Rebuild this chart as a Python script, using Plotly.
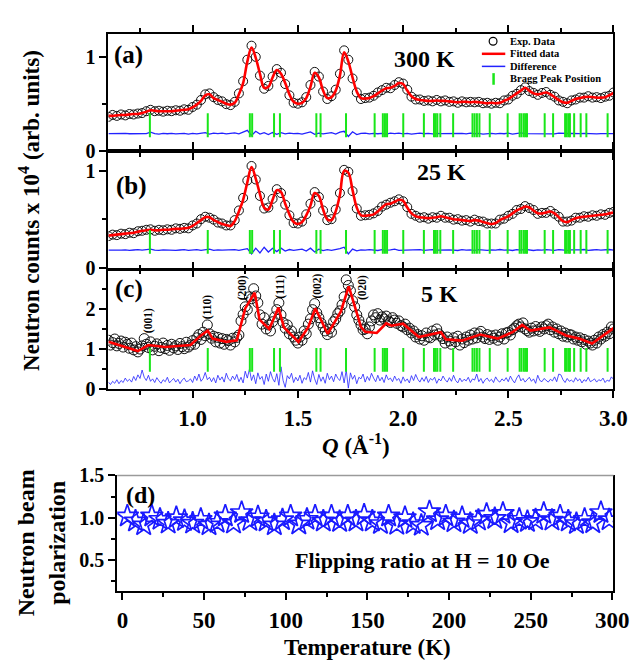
import plotly.graph_objects as go

W, H = 641, 666
FONT = "Liberation Serif"

# ---------------- data ----------------
q_ab = [round(0.60 + 0.02 * i, 2) for i in range(121)]
q_c = [round(0.60 + 0.01 * i, 2) for i in range(241)]

exp_a = [0.36, 0.38, 0.37, 0.385, 0.375, 0.39, 0.385, 0.395, 0.40, 0.42,
         0.435, 0.42, 0.425, 0.415, 0.425, 0.42, 0.43, 0.425, 0.44, 0.435,
         0.465, 0.49, 0.54, 0.60, 0.61, 0.57, 0.54, 0.525, 0.495, 0.485,
         0.52, 0.61, 0.74, 0.97, 1.12, 1.00, 0.80, 0.66, 0.69, 0.79,
         0.87, 0.83, 0.71, 0.59, 0.51, 0.50, 0.515, 0.57, 0.70, 0.84,
         0.79, 0.63, 0.55, 0.58, 0.65, 0.82, 1.07, 0.97, 0.77, 0.62,
         0.55, 0.56, 0.565, 0.585, 0.62, 0.645, 0.67, 0.665, 0.70, 0.73,
         0.715, 0.65, 0.575, 0.545, 0.545, 0.53, 0.535, 0.525, 0.54, 0.525,
         0.535, 0.52, 0.525, 0.51, 0.525, 0.515, 0.52, 0.515, 0.52, 0.505,
         0.51, 0.50, 0.51, 0.505, 0.535, 0.545, 0.585, 0.605, 0.645, 0.675,
         0.635, 0.615, 0.595, 0.615, 0.625, 0.595, 0.575, 0.535, 0.52, 0.505,
         0.535, 0.545, 0.565, 0.565, 0.58, 0.565, 0.57, 0.56, 0.575, 0.585,
         0.62]
fit_a = [0.37, 0.37, 0.375, 0.38, 0.38, 0.385, 0.39, 0.39, 0.40, 0.415,
         0.43, 0.425, 0.42, 0.42, 0.42, 0.42, 0.425, 0.43, 0.435, 0.44,
         0.46, 0.49, 0.53, 0.59, 0.60, 0.56, 0.54, 0.52, 0.50, 0.49,
         0.51, 0.60, 0.72, 0.95, 1.10, 0.99, 0.82, 0.67, 0.68, 0.78,
         0.86, 0.82, 0.72, 0.60, 0.52, 0.50, 0.51, 0.56, 0.68, 0.83,
         0.78, 0.64, 0.56, 0.57, 0.64, 0.80, 1.05, 0.95, 0.78, 0.63,
         0.56, 0.555, 0.56, 0.58, 0.61, 0.64, 0.665, 0.67, 0.69, 0.72,
         0.71, 0.64, 0.58, 0.55, 0.54, 0.535, 0.53, 0.53, 0.535, 0.53,
         0.53, 0.525, 0.52, 0.515, 0.52, 0.52, 0.515, 0.52, 0.515, 0.51,
         0.505, 0.51, 0.505, 0.51, 0.53, 0.55, 0.58, 0.61, 0.64, 0.67,
         0.64, 0.61, 0.60, 0.61, 0.62, 0.60, 0.57, 0.54, 0.515, 0.51,
         0.53, 0.55, 0.56, 0.57, 0.575, 0.57, 0.565, 0.565, 0.57, 0.59,
         0.615]
diff_a = [0.18, 0.182, 0.178, 0.18, 0.184, 0.179, 0.181, 0.177, 0.183, 0.18,
          0.195, 0.18, 0.176, 0.182, 0.179, 0.183, 0.178, 0.181, 0.184, 0.176,
          0.182, 0.178, 0.186, 0.19, 0.175, 0.185, 0.18, 0.186, 0.177, 0.182,
          0.188, 0.178, 0.20, 0.215, 0.16, 0.205, 0.175, 0.19, 0.17, 0.192,
          0.172, 0.19, 0.178, 0.186, 0.18, 0.183, 0.175, 0.19, 0.198, 0.172,
          0.185, 0.178, 0.182, 0.19, 0.176, 0.196, 0.205, 0.15, 0.20, 0.17,
          0.182, 0.186, 0.178, 0.184, 0.179, 0.183, 0.176, 0.185, 0.18, 0.186,
          0.178, 0.184, 0.176, 0.182, 0.186, 0.179, 0.183, 0.178, 0.184, 0.18,
          0.182, 0.177, 0.184, 0.18, 0.183, 0.178, 0.185, 0.179, 0.182, 0.176,
          0.18, 0.184, 0.178, 0.183, 0.179, 0.185, 0.176, 0.182, 0.188, 0.181,
          0.18, 0.178, 0.184, 0.179, 0.183, 0.181, 0.178, 0.185, 0.18, 0.182,
          0.184, 0.179, 0.181, 0.183, 0.18, 0.182, 0.178, 0.181, 0.18, 0.184,
          0.18]

exp_b = [0.325, 0.34, 0.335, 0.35, 0.345, 0.36, 0.355, 0.375, 0.38, 0.39,
         0.395, 0.38, 0.39, 0.385, 0.395, 0.39, 0.405, 0.40, 0.41, 0.405,
         0.435, 0.455, 0.50, 0.525, 0.515, 0.495, 0.465, 0.455, 0.435, 0.435,
         0.49, 0.59, 0.72, 0.90, 1.05, 0.91, 0.74, 0.61, 0.62, 0.71,
         0.81, 0.77, 0.65, 0.54, 0.46, 0.455, 0.475, 0.55, 0.66, 0.78,
         0.73, 0.59, 0.49, 0.50, 0.60, 0.77, 1.01, 0.99, 0.79, 0.61,
         0.535, 0.54, 0.545, 0.56, 0.585, 0.63, 0.65, 0.67, 0.685, 0.705,
         0.685, 0.625, 0.555, 0.535, 0.515, 0.52, 0.505, 0.52, 0.515, 0.535,
         0.515, 0.515, 0.495, 0.50, 0.485, 0.49, 0.475, 0.495, 0.48, 0.475,
         0.455, 0.455, 0.455, 0.495, 0.505, 0.535, 0.555, 0.595, 0.605, 0.635,
         0.615, 0.595, 0.555, 0.565, 0.565, 0.585, 0.555, 0.525, 0.475, 0.475,
         0.485, 0.515, 0.515, 0.53, 0.525, 0.54, 0.535, 0.55, 0.545, 0.565,
         0.575]
fit_b = [0.33, 0.335, 0.34, 0.345, 0.35, 0.355, 0.36, 0.37, 0.38, 0.385,
         0.39, 0.385, 0.385, 0.39, 0.39, 0.395, 0.40, 0.40, 0.405, 0.41,
         0.43, 0.46, 0.49, 0.52, 0.52, 0.49, 0.47, 0.45, 0.44, 0.43,
         0.48, 0.58, 0.70, 0.88, 1.04, 0.92, 0.76, 0.62, 0.60, 0.70,
         0.80, 0.78, 0.66, 0.55, 0.47, 0.45, 0.47, 0.54, 0.64, 0.77,
         0.74, 0.60, 0.50, 0.49, 0.58, 0.75, 1.00, 0.98, 0.80, 0.62,
         0.54, 0.535, 0.54, 0.55, 0.58, 0.62, 0.655, 0.66, 0.68, 0.70,
         0.69, 0.62, 0.56, 0.53, 0.52, 0.515, 0.51, 0.515, 0.52, 0.53,
         0.52, 0.51, 0.50, 0.495, 0.49, 0.485, 0.48, 0.49, 0.485, 0.47,
         0.46, 0.45, 0.46, 0.49, 0.51, 0.53, 0.56, 0.59, 0.61, 0.63,
         0.62, 0.59, 0.56, 0.56, 0.57, 0.58, 0.56, 0.52, 0.48, 0.47,
         0.49, 0.51, 0.52, 0.525, 0.53, 0.535, 0.54, 0.545, 0.55, 0.56,
         0.57]
diff_b = [0.18, 0.178, 0.183, 0.179, 0.182, 0.177, 0.181, 0.184, 0.179, 0.182,
          0.19, 0.18, 0.177, 0.183, 0.179, 0.182, 0.178, 0.181, 0.184, 0.178,
          0.181, 0.185, 0.178, 0.183, 0.19, 0.177, 0.182, 0.179, 0.183, 0.18,
          0.184, 0.178, 0.186, 0.195, 0.14, 0.20, 0.15, 0.21, 0.16, 0.198,
          0.165, 0.20, 0.17, 0.186, 0.178, 0.183, 0.19, 0.17, 0.20, 0.16,
          0.19, 0.175, 0.184, 0.178, 0.186, 0.195, 0.21, 0.14, 0.19, 0.172,
          0.183, 0.179, 0.185, 0.18, 0.176, 0.184, 0.179, 0.183, 0.19, 0.178,
          0.179, 0.183, 0.177, 0.182, 0.185, 0.178, 0.181, 0.184, 0.179, 0.182,
          0.178, 0.183, 0.18, 0.176, 0.184, 0.179, 0.182, 0.178, 0.185, 0.18,
          0.177, 0.183, 0.18, 0.186, 0.179, 0.182, 0.176, 0.184, 0.18, 0.188,
          0.182, 0.176, 0.183, 0.179, 0.185, 0.18, 0.177, 0.184, 0.181, 0.178,
          0.183, 0.179, 0.182, 0.186, 0.178, 0.181, 0.184, 0.179, 0.182, 0.186,
          0.18]

exp_c = [1.22, 1.10, 1.16, 1.25, 1.08, 1.14, 1.20, 1.05, 1.17, 1.12,
         1.02, 1.15, 0.98, 1.06, 0.93, 1.00, 1.08, 1.26, 1.12, 1.04,
         1.18, 0.98, 1.07, 1.13, 0.96, 1.04, 1.15, 1.01, 1.09, 0.97,
         1.12, 1.03, 1.08, 0.99, 1.14, 1.06, 1.01, 1.17, 1.05, 1.10,
         1.21, 1.12, 1.28, 1.36, 1.24, 1.42, 1.33, 1.60, 1.38, 1.27,
         1.32, 1.18, 1.29, 1.15, 1.26, 1.12, 1.24, 1.21, 1.10, 1.27,
         1.18, 1.29, 1.35, 1.70, 1.86, 2.05, 1.98, 2.30, 2.25, 2.50,
         2.32, 2.15, 1.85, 1.62, 1.78, 1.50, 1.60, 1.45, 1.68, 1.80,
         1.98, 2.15, 1.85, 1.66, 1.52, 1.60, 1.38, 1.45, 1.30, 1.22,
         1.15, 1.30, 1.22, 1.45, 1.38, 1.62, 1.75, 1.98, 2.13, 1.90,
         1.78, 1.65, 1.55, 1.45, 1.36, 1.50, 1.42, 1.68, 1.75, 1.88,
         1.95, 2.10, 2.30, 2.72, 2.58, 2.45, 2.20, 2.05, 1.85, 1.72,
         1.60, 1.48, 1.50, 1.38, 1.55, 1.70, 1.85, 1.78, 1.88, 1.72,
         1.80, 1.75, 1.82, 1.70, 1.66, 1.78, 1.72, 1.64, 1.70, 1.58,
         1.55, 1.62, 1.48, 1.52, 1.40, 1.45, 1.30, 1.36, 1.25, 1.33,
         1.22, 1.40, 1.30, 1.28, 1.45, 1.35, 1.50, 1.38, 1.32, 1.26,
         1.15, 1.30, 1.20, 1.12, 1.28, 1.18, 1.32, 1.10, 1.25, 1.16,
         1.30, 1.22, 1.35, 1.25, 1.40, 1.28, 1.38, 1.44, 1.30, 1.26,
         1.36, 1.24, 1.33, 1.27, 1.35, 1.22, 1.30, 1.38, 1.25, 1.40,
         1.42, 1.35, 1.48, 1.52, 1.58, 1.62, 1.55, 1.65, 1.50, 1.46,
         1.42, 1.52, 1.45, 1.56, 1.48, 1.44, 1.55, 1.50, 1.58, 1.62,
         1.48, 1.55, 1.42, 1.50, 1.38, 1.45, 1.32, 1.40, 1.30, 1.36,
         1.35, 1.25, 1.30, 1.22, 1.28, 1.18, 1.24, 1.12, 1.20, 1.15,
         1.10, 1.22, 1.15, 1.30, 1.25, 1.36, 1.32, 1.42, 1.38, 1.55,
         1.50]
diff_c = [0.18, 0.12, 0.20, 0.15, 0.24, 0.14, 0.22, 0.17, 0.28, 0.20,
          0.25, 0.18, 0.32, 0.22, 0.36, 0.27, 0.48, 0.30, 0.22, 0.35,
          0.20, 0.26, 0.17, 0.29, 0.21, 0.15, 0.24, 0.19, 0.30, 0.16,
          0.22, 0.27, 0.18, 0.25, 0.14, 0.23, 0.28, 0.19, 0.21, 0.26,
          0.17, 0.33, 0.22, 0.38, 0.20, 0.27, 0.42, 0.24, 0.30, 0.19,
          0.29, 0.16, 0.35, 0.23, 0.31, 0.18, 0.40, 0.26, 0.21, 0.33,
          0.24, 0.37, 0.19, 0.30, 0.16, 0.45, 0.28, 0.50, 0.22, 0.36,
          0.14, 0.41, 0.25, 0.32, 0.12, 0.38, 0.20, 0.44, 0.27, 0.18,
          0.39, 0.10, 0.56, 0.22, 0.05, 0.34, 0.26, 0.40, 0.17, 0.30,
          0.21, 0.35, 0.15, 0.29, 0.24, 0.42, 0.18, 0.46, 0.26, 0.12,
          0.37, 0.20, 0.31, 0.15, 0.40, 0.24, 0.33, 0.19, 0.38, 0.27,
          0.22, 0.44, 0.16, 0.48, 0.03, 0.41, 0.25, 0.35, 0.14, 0.30,
          0.26, 0.38, 0.18, 0.32, 0.22, 0.40, 0.28, 0.19, 0.35, 0.21,
          0.30, 0.17, 0.36, 0.24, 0.28, 0.19, 0.33, 0.22, 0.27, 0.15,
          0.31, 0.20, 0.26, 0.16, 0.34, 0.22, 0.37, 0.25, 0.18, 0.29,
          0.20, 0.32, 0.17, 0.27, 0.23, 0.30, 0.15, 0.26, 0.21, 0.33,
          0.24, 0.18, 0.29, 0.20, 0.35, 0.22, 0.16, 0.28, 0.19, 0.25,
          0.21, 0.30, 0.17, 0.26, 0.23, 0.38, 0.19, 0.27, 0.15, 0.24,
          0.28, 0.20, 0.25, 0.17, 0.31, 0.22, 0.18, 0.26, 0.21, 0.29,
          0.19, 0.33, 0.23, 0.16, 0.28, 0.36, 0.21, 0.27, 0.18, 0.24,
          0.30, 0.20, 0.26, 0.15, 0.35, 0.22, 0.19, 0.27, 0.23, 0.18,
          0.25, 0.21, 0.31, 0.19, 0.38, 0.36, 0.24, 0.17, 0.27, 0.20,
          0.23, 0.18, 0.29, 0.21, 0.26, 0.16, 0.24, 0.20, 0.30, 0.19,
          0.22, 0.26, 0.18, 0.24, 0.21, 0.28, 0.17, 0.23, 0.20, 0.31,
          0.25]
fit_c_q = [0.60, 0.74, 0.79, 0.87, 0.99, 1.04, 1.072, 1.095, 1.16, 1.21,
           1.25, 1.295, 1.318, 1.364, 1.408, 1.434, 1.503, 1.549, 1.583, 1.642,
           1.704, 1.742, 1.80, 1.82, 1.875, 1.92, 1.945, 2.00, 2.075, 2.18,
           2.204, 2.28, 2.366, 2.45, 2.52, 2.566, 2.605, 2.697, 2.774, 2.836,
           2.898, 3.00]
fit_c = [1.18, 0.95, 1.10, 1.05, 1.10, 1.34, 1.46, 1.26, 1.18, 1.22,
         2.01, 2.40, 1.73, 1.50, 2.03, 1.54, 1.18, 1.54, 2.01, 1.38,
         1.93, 2.56, 1.55, 1.43, 1.40, 1.64, 1.58, 1.63, 1.30, 1.42,
         1.24, 1.21, 1.36, 1.26, 1.42, 1.60, 1.46, 1.54, 1.34, 1.26,
         1.14, 1.52]

bragg_q = [0.797, 1.072, 1.272, 1.283, 1.387, 1.415, 1.588, 1.608, 1.729,
           1.865, 1.904, 1.914, 1.924, 2.001, 2.099, 2.147, 2.155, 2.163, 2.177,
           2.238, 2.330, 2.340, 2.351, 2.363, 2.412, 2.497, 2.554, 2.563, 2.574,
           2.582, 2.589, 2.673, 2.713, 2.770, 2.778, 2.787, 2.793, 2.813, 2.844,
           2.871, 2.972]

hkl_labels = ["(001)", "(110)", "(200)", "(111)", "(002)", "(020)"]
hkl_q = [0.794, 1.07, 1.237, 1.42, 1.594, 1.81]
hkl_y = [1.70, 2.05, 2.52, 2.55, 2.57, 2.52]

temp_k = [3, 8, 13, 18, 23, 28, 33, 38, 43, 48, 53, 58, 63, 68, 73, 78, 83, 88, 93, 98,
          103, 108, 113, 118, 123, 128, 133, 138, 143, 148, 153, 158, 163, 168, 173, 178,
          183, 188, 193, 198, 203, 208, 213, 218, 223, 228, 233, 238, 243, 248, 253, 258,
          263, 268, 273, 278, 283, 288, 293, 298]
polarization = [1.02, 0.96, 0.915, 1.02, 0.98, 0.935, 1.00, 0.965, 0.935, 0.98,
                0.915, 0.945, 1.02, 0.935, 1.06, 0.965, 1.01, 0.96, 0.915, 0.975,
                1.02, 0.925, 0.98, 1.02, 0.96, 1.02, 0.955, 1.02, 0.96, 1.03,
                0.96, 0.93, 1.02, 0.92, 1.00, 0.93, 0.91, 1.07, 0.975, 1.02,
                0.95, 1.00, 0.93, 0.97, 1.04, 0.99, 1.05, 0.94, 0.98, 0.955,
                0.975, 1.05, 0.97, 1.02, 0.96, 0.93, 0.98, 0.94, 1.06, 0.975]

assert len(exp_a) == len(fit_a) == len(diff_a) == len(q_ab)
assert len(exp_b) == len(fit_b) == len(diff_b) == len(q_ab)
assert len(exp_c) == len(diff_c) == len(q_c)
assert len(fit_c_q) == len(fit_c)
assert len(temp_k) == len(polarization)

# ---------------- layout helpers (pixel -> paper) ----------------
def px(x):
    return x / W

def py(y):
    return 1 - y / H

X0, X1 = 103, 621
panels = {
    "a": (15, 136, [0, 1.25]),
    "b": (137, 257, [0, 1.2]),
    "c": (261, 383, [0, 2.93]),
}
D_TOP, D_BOT = 472, 592

RED = "#ff0000"
BLUE = "#2222ff"
GREEN = "#19e619"

fig = go.Figure()

def add_panel(idx, q, ex, fit_q, fit, dq, diff, bragg_y, msize, dwidth, shape):
    xa = "x" if idx == 1 else f"x{idx}"
    ya = "y" if idx == 1 else f"y{idx}"
    fig.add_trace(go.Scatter(x=q, y=ex, mode="markers", xaxis=xa, yaxis=ya,
                             marker=dict(symbol="circle-open", size=msize, color="#111111",
                                         line=dict(width=1)), showlegend=False))
    fig.add_trace(go.Scatter(x=fit_q, y=fit, mode="lines", xaxis=xa, yaxis=ya,
                             line=dict(color=RED, width=2.6, shape=shape), showlegend=False))
    fig.add_trace(go.Scatter(x=dq, y=diff, mode="lines", xaxis=xa, yaxis=ya,
                             line=dict(color=BLUE, width=dwidth), showlegend=False))
    fig.add_trace(go.Scatter(x=bragg_q, y=[bragg_y] * len(bragg_q), mode="markers",
                             xaxis=xa, yaxis=ya,
                             marker=dict(symbol="line-ns", size=17, color=GREEN,
                                         line=dict(width=2, color=GREEN)), showlegend=False))

add_panel(1, q_ab, exp_a, q_ab, fit_a, q_ab, diff_a, 0.27, 9, 1.3, "spline")
add_panel(2, q_ab, exp_b, q_ab, fit_b, q_ab, diff_b, 0.265, 9, 1.3, "spline")
add_panel(3, q_c, exp_c, fit_c_q, fit_c, q_c, diff_c, 0.73, 10, 0.8, "linear")

fig.add_trace(go.Scatter(x=temp_k, y=polarization, mode="markers", xaxis="x4", yaxis="y4",
                         marker=dict(symbol="star-open", size=17, color="#1a1aff",
                                     line=dict(width=1.7)), showlegend=False))

tickfont_big = dict(family=FONT, size=23, color="black", weight="bold")
tickfont_y = dict(family=FONT, size=20, color="black", weight="bold")

axis_common = dict(showgrid=False, zeroline=False, showline=True, linecolor="black",
                   linewidth=2, ticks="outside", tickcolor="black", tickwidth=1.5)

layout = dict(width=W, height=H, margin=dict(l=0, r=0, t=0, b=0),
              paper_bgcolor="white", plot_bgcolor="white", showlegend=False)

for i, key in enumerate(["a", "b", "c"], start=1):
    top, bot, yr = panels[key]
    xname = "xaxis" if i == 1 else f"xaxis{i}"
    yname = "yaxis" if i == 1 else f"yaxis{i}"
    yanchor = "y" if i == 1 else f"y{i}"
    xanchor = "x" if i == 1 else f"x{i}"
    layout[xname] = dict(axis_common, domain=[px(X0), px(X1)], range=[0.6, 3.0],
                         anchor=yanchor, dtick=0.5, tick0=0, ticklen=7, mirror="ticks",
                         showticklabels=(key == "c"), tickfont=tickfont_big,
                         tickformat=".1f",
                         minor=dict(dtick=0.25, ticklen=4, tickcolor="black", ticks="outside"))
    layout[yname] = dict(axis_common, domain=[py(bot), py(top)], range=yr, anchor=xanchor,
                         dtick=1, ticklen=7, mirror=True, tickfont=tickfont_y,
                         minor=dict(dtick=0.5, ticklen=4, tickcolor="black", ticks="outside"))

layout["xaxis4"] = dict(axis_common, domain=[px(112), px(621)], range=[-3.2, 300.7], anchor="y4",
                        dtick=50, tick0=0, ticklen=7, mirror=False, tickfont=tickfont_big,
                        minor=dict(dtick=25, ticklen=4, tickcolor="black", ticks="outside"))
layout["yaxis4"] = dict(axis_common, domain=[py(D_BOT), py(D_TOP)], range=[0.13, 1.5], anchor="x4",
                        dtick=0.5, tick0=0, ticklen=7, mirror=True, tickformat=".1f",
                        tickfont=dict(family=FONT, size=20, color="black", weight="bold"),
                        minor=dict(dtick=0.25, ticklen=4, tickcolor="black", ticks="outside"))

fig.update_layout(**layout)

# top border of panel (d) drawn lighter
fig.add_shape(type="line", xref="paper", yref="paper", x0=px(112), x1=px(621),
              y0=py(D_TOP), y1=py(D_TOP), line=dict(color="#9a9a9a", width=1.5))

anns = []

def txt(x, y, s, size, angle=0, xanchor="center", xref="paper", yref="paper"):
    if xref == "paper":
        x, y = px(x), py(y)
    anns.append(dict(x=x, y=y, xref=xref, yref=yref, text=s, showarrow=False,
                     textangle=angle, xanchor=xanchor, yanchor="middle",
                     font=dict(family=FONT, size=size, color="black")))

txt(124, 37, "<b>(a)</b>", 25)
txt(427, 41, "<b>300 K</b>", 24)
txt(127, 173, "<b>(b)</b>", 25)
txt(445, 158, "<b>25 K</b>", 24)
txt(124, 279, "<b>(c)</b>", 25)
txt(443, 284, "<b>5 K</b>", 24)
txt(11, 1.27, "<b>(d)</b>", 24, xref="x4", yref="y4")
txt(184, 0.5, "<b>Flipping ratio at H = 10 Oe</b>", 22, xref="x4", yref="y4")

for lab, hq, hy in zip(hkl_labels, hkl_q, hkl_y):
    anns.append(dict(x=hq, y=hy, xref="x3", yref="y3", text=f"<b>{lab}</b>", showarrow=False,
                     textangle=-90, font=dict(family=FONT, size=11.5, color="black")))

# axis titles
txt(22, 198, "<b>Neutron counts x 10<sup>4</sup> (arb. units)</b>", 23, angle=-90)
txt(357, 440, "<b><i>Q</i> (Å<sup>-1</sup>)</b>", 23)
txt(34, 542, "<b>Neutron beam<br>polarization</b>", 24, angle=-90)
txt(369, 650, "<b>Temperature (K)</b>", 23)

# legend (manual)
leg_font = 10.5
legend_labels = ["Exp. Data", "Fitted data", "Difference", "Bragg Peak Position"]
leg_rows = [23, 36, 49, 62]
for lab, yy in zip(legend_labels, leg_rows):
    txt(513, yy, f"<b>{lab}</b>", leg_font, xanchor="left")

fig.add_shape(type="circle", xref="paper", yref="paper", x0=px(493.5), x1=px(501.5),
              y0=py(27), y1=py(19), line=dict(color="black", width=1.2))
fig.add_shape(type="line", xref="paper", yref="paper", x0=px(486), x1=px(510),
              y0=py(36), y1=py(36), line=dict(color=RED, width=2.5))
fig.add_shape(type="line", xref="paper", yref="paper", x0=px(486), x1=px(510),
              y0=py(49), y1=py(49), line=dict(color=BLUE, width=1.5))
fig.add_shape(type="line", xref="paper", yref="paper", x0=px(498), x1=px(498),
              y0=py(68), y1=py(56), line=dict(color=GREEN, width=2.5))

fig.update_layout(annotations=anns)
fig.write_html("out.html")
